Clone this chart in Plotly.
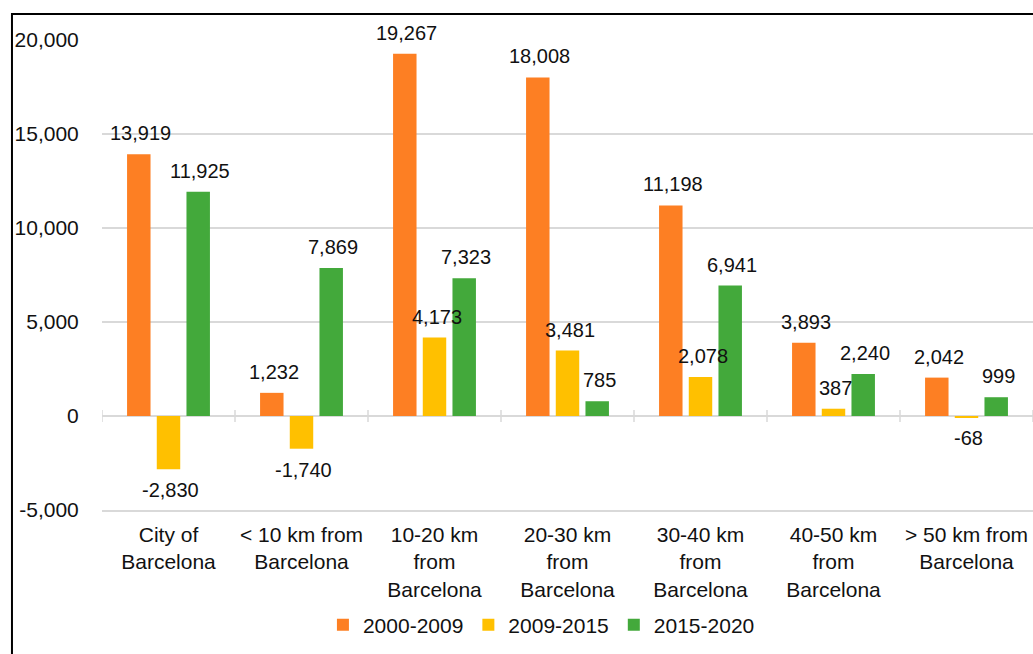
import plotly.graph_objects as go

# ---- data ----
categories = ["City of<br>Barcelona", "&lt; 10 km from<br>Barcelona", "10-20 km<br>from<br>Barcelona",
              "20-30 km<br>from<br>Barcelona", "30-40 km<br>from<br>Barcelona",
              "40-50 km<br>from<br>Barcelona", "&gt; 50 km from<br>Barcelona"]
series_names = ["2000-2009", "2009-2015", "2015-2020"]
v_2000_2009 = [13919, 1232, 19267, 18008, 11198, 3893, 2042]
v_2009_2015 = [-2830, -1740, 4173, 3481, 2078, 387, -68]
v_2015_2020 = [11925, 7869, 7323, 785, 6941, 2240, 999]
y_tick_vals = [-5000, 0, 5000, 10000, 15000, 20000]

# ---- style ----
colors = ["#FD7F23", "#FFC000", "#43A93B"]
FONT = "Liberation Sans, Arial, sans-serif"
TXT = "#111111"
GRID = "#D9D9D9"
BARGAP = 0.33
BARGROUPGAP = 0.21

fig = go.Figure()
xs = list(range(len(categories)))
all_series = [v_2000_2009, v_2009_2015, v_2015_2020]
for name, vals, col in zip(series_names, all_series, colors):
    fig.add_trace(go.Bar(x=xs, y=vals, name=name, marker=dict(color=col, line=dict(width=0))))

# data labels
slot = (1 - BARGAP) / len(all_series)
annotations = []
for k, vals in enumerate(all_series):
    for i, v in enumerate(vals):
        annotations.append(dict(
            x=i + (k - 1) * slot, y=v, xref="x", yref="y",
            text=f"{v:,}", showarrow=False, xshift=2,
            yshift=21 if v >= 0 else -21, yanchor="middle",
            font=dict(family=FONT, size=20, color=TXT)))

# cross tick marks on the zero line at category boundaries
shapes = []
for i in range(len(categories) + 1):
    shapes.append(dict(type="line", xref="x", yref="y", x0=i - 0.5, x1=i - 0.5,
                       ysizemode="pixel", yanchor=0, y0=-6, y1=6,
                       line=dict(color=GRID, width=1.5)))
# outer frame
shapes.append(dict(type="rect", xref="paper", yref="paper",
                   x0=-0.0967, x1=1.3, y0=-0.6, y1=1.0553,
                   line=dict(color="black", width=2), layer="above"))

fig.update_layout(
    width=1033, height=654, autosize=False,
    margin=dict(l=102, r=0, t=40, b=144),
    plot_bgcolor="white", paper_bgcolor="white",
    barmode="group", bargap=BARGAP, bargroupgap=BARGROUPGAP,
    font=dict(family=FONT, size=21, color=TXT),
    showlegend=True,
    legend=dict(orientation="h", x=0.472, xanchor="center", y=-0.245, yanchor="middle",
                font=dict(family=FONT, size=21, color=TXT), itemwidth=30,
                traceorder="normal"),
    annotations=annotations,
    shapes=shapes,
    xaxis=dict(range=[-0.5, len(categories) - 0.5], tickmode="array", tickvals=xs,
               ticktext=categories, showgrid=False, zeroline=False,
               showline=True, linecolor=GRID, linewidth=1.5, ticks="",
               ticklabelstandoff=5,
               tickfont=dict(family=FONT, size=21, color=TXT)),
    yaxis=dict(range=[-5000, 20000], tickmode="array", tickvals=y_tick_vals,
               ticktext=[f"{v:,}" for v in y_tick_vals],
               showgrid=True, gridcolor=GRID, gridwidth=1.5,
               zeroline=True, zerolinecolor=GRID, zerolinewidth=1.5,
               showline=False, ticks="outside", ticklen=18, tickcolor="rgba(0,0,0,0)",
               tickfont=dict(family=FONT, size=21, color=TXT)),
)

fig.write_html("out.html")
